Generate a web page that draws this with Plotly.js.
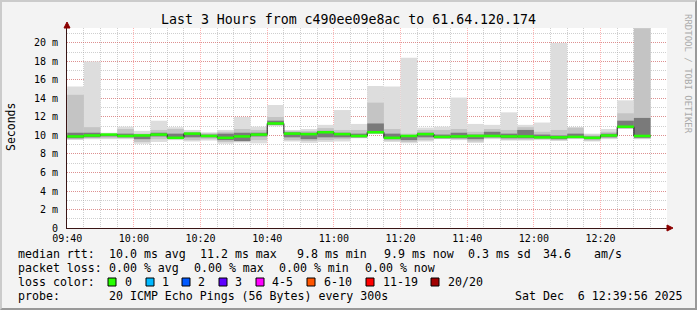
<!DOCTYPE html>
<html><head><meta charset="utf-8">
<script src="https://cdn.plot.ly/plotly-3.0.1.min.js"></script>
<style>
html,body{margin:0;padding:0;background:#f3f3f3;}
#wrap{position:relative;width:697px;height:310px;overflow:hidden;}
#chart{width:697px;height:310px;}
#frame{position:absolute;left:0;top:0;width:697px;height:310px;box-sizing:border-box;border-top:2px solid #cbcbcb;border-left:2px solid #cbcbcb;border-right:2px solid #999;border-bottom:2px solid #999;pointer-events:none;}
</style></head>
<body><div id="wrap"><div id="chart"></div><div id="frame"></div></div>
<script>
// ---- data (5-minute periods, milliseconds shown as "m") ----
const day = "2025-12-06";
const times = ["09:40","09:45","09:50","09:55","10:00","10:05","10:10","10:15","10:20","10:25","10:30","10:35","10:40","10:45","10:50","10:55","11:00","11:05","11:10","11:15","11:20","11:25","11:30","11:35","11:40","11:45","11:50","11:55","12:00","12:05","12:10","12:15","12:20","12:25","12:30"];
const maxs = [15.3,18.0,10.3,10.95,10.5,11.6,10.9,10.6,10.35,10.6,12.0,10.95,13.3,10.6,10.7,11.15,12.75,11.25,15.35,15.3,18.4,10.85,10.95,14.1,11.25,11.15,12.5,11.15,11.4,20.0,10.9,10.2,10.7,13.8,21.8];
const hi1  = [14.4,10.9,10.2,10.7,10.2,10.6,10.7,10.4,10.25,10.4,10.7,10.6,12.0,10.5,10.5,10.8,10.6,10.6,13.55,10.7,10.2,10.6,10.6,10.7,10.4,10.7,10.6,10.9,10.4,10.6,10.85,10.1,10.4,12.4,21.6];
const hi2  = [10.3,10.3,10.15,10.2,10.1,10.3,10.2,10.3,10.1,10.2,10.3,10.3,11.6,10.35,10.3,10.5,10.3,10.2,11.3,10.2,10.05,10.3,10.1,10.3,10.1,10.4,10.2,10.6,10.1,10.0,10.2,9.9,10.2,11.6,11.9];
const meds = [9.9,10.0,10.1,9.95,10.0,10.1,9.75,10.2,9.95,9.75,9.9,10.1,11.3,10.2,10.15,10.35,10.15,9.95,10.35,9.75,9.95,10.15,9.85,9.9,9.95,9.95,9.9,9.9,9.8,9.8,9.85,9.75,10.0,10.95,9.95];
const lo2  = [9.7,9.8,9.9,9.8,9.6,9.9,9.65,9.8,9.8,9.5,9.4,9.9,11.15,9.8,9.6,9.8,9.8,9.8,10.25,9.6,9.5,9.8,9.7,9.7,9.6,9.8,9.7,9.7,9.7,9.6,9.75,9.6,9.8,10.8,9.75];
const lo1  = [9.6,9.7,9.7,9.7,9.3,9.6,9.6,9.5,9.6,9.3,9.35,9.5,11.1,9.5,9.4,9.5,9.6,9.75,10.2,9.45,9.3,9.5,9.65,9.6,9.35,9.7,9.55,9.55,9.6,9.5,9.65,9.45,9.7,10.75,9.65];
const mins = [9.5,9.6,9.6,9.6,9.1,9.3,9.5,9.35,9.45,9.1,9.25,9.15,11.0,9.35,9.2,9.3,9.35,9.7,10.15,9.3,9.15,9.35,9.6,9.5,9.2,9.6,9.45,9.45,9.5,9.4,9.6,9.35,9.6,10.7,9.6];
const yTickVals = [0,2,4,6,8,10,12,14,16,18,20];
const yTickText = ["0","2 m","4 m","6 m","8 m","10 m","12 m","14 m","16 m","18 m","20 m"];
const lossLabels = ["0","1","2","3","4-5","6-10","11-19","20/20"];
const lossColors = ["#26ff00","#00b8ff","#0059ff","#5e00ff","#ff00fe","#ff5500","#ff0000","#a00000"];
const titleText = "Last 3 Hours from c490ee09e8ac to 61.64.120.174";
const statsRtt = ["median rtt:","10.0 ms avg","11.2 ms max","9.8 ms min","9.9 ms now","0.3 ms sd","34.6","am/s"];
const statsLoss = ["packet loss:","0.00 % avg","0.00 % max","0.00 % min","0.00 % now"];
const probeText = ["probe:","20 ICMP Echo Pings (56 Bytes) every 300s","Sat Dec  6 12:39:56 2025"];

// ---- helpers ----
const STEP = 300000;
function toMs(t){const [h,m]=t.split(":").map(Number);return Date.UTC(2025,11,6,h,m);}
const xs = times.map(toMs);
const MONO = "DejaVu Sans Mono, monospace";
// pixel -> paper (plot area x 67..667, y 28..228)
const PX = p => (p-67)/600, PY = p => (228-p)/200;

function band(lo, hi, color){
  return {type:"bar", x:xs, base:lo, y:hi.map((v,i)=>v-lo[i]), offset:0, width:STEP,
          marker:{color:color, line:{width:0}}, hoverinfo:"skip"};
}
const traces = [
  band(mins, maxs, "#dddddd"),
  band(lo1, hi1, "#c4c4c4"),
  band(lo2, hi2, "#7a7a7a"),
  {type:"scatter", mode:"lines", x:xs.concat([xs[xs.length-1]+STEP]), y:meds.concat([meds[meds.length-1]]),
   line:{shape:"hv", color:"#1a1a1a", width:1}, hoverinfo:"skip"},
  (function(){const gx=[],gy=[];xs.forEach((x,i)=>{gx.push(x,x+STEP,null);gy.push(meds[i],meds[i],null);});
    return {type:"scatter", mode:"lines", x:gx, y:gy, line:{color:lossColors[0], width:2.5}, hoverinfo:"skip", connectgaps:false};})()
];

const nb = s => s.replace(/ /g,"\u00a0");
const ann = [];
function txt(px, py, s, extra){ann.push(Object.assign({xref:"paper",yref:"paper",x:PX(px),y:PY(py),text:nb(s),showarrow:false,xanchor:"left",yanchor:"middle",font:{family:MONO,size:11.6,color:"#000"}},extra||{}));}
const rttX = [16,107,198,295,382,466,541,592];
statsRtt.forEach((s,i)=>txt(rttX[i],254,s));
const lossX = [16,107,192,277,363];
statsLoss.forEach((s,i)=>txt(lossX[i],268,s));
txt(16,282,"loss color:");
const sqX = [108,146,182,219,256,307,366,431];
const lbX = [123,160,196,233,270,322,381,446];
const shapes = [];
lossLabels.forEach((l,i)=>{
  txt(lbX[i],282,l);
  shapes.push({type:"rect",xref:"paper",yref:"paper",x0:PX(sqX[i]),x1:PX(sqX[i]+8),y0:PY(286),y1:PY(278),fillcolor:lossColors[i],line:{color:"#000",width:1}});
});
const probeX = [16,107,513];
probeText.forEach((s,i)=>txt(probeX[i],296,s));
ann.push({xref:"paper",yref:"paper",x:PX(11),y:PY(127),text:"Seconds",textangle:-90,showarrow:false,xanchor:"center",yanchor:"middle",font:{family:MONO,size:11.5,color:"#000"}});
ann.push({xref:"paper",yref:"paper",x:PX(688),y:PY(74),text:nb("RRDTOOL / TOBI OETIKER"),textangle:90,showarrow:false,xanchor:"center",yanchor:"middle",font:{family:MONO,size:9,color:"#aaaaaa"}});
// axis arrows
shapes.push({type:"path",xref:"paper",yref:"paper",path:`M ${PX(667)} ${PY(225)} L ${PX(673)} ${PY(228)} L ${PX(667)} ${PY(231)} Z`,fillcolor:"#8b0000",line:{color:"#8b0000",width:1}});
shapes.push({type:"path",xref:"paper",yref:"paper",path:`M ${PX(64)} ${PY(28)} L ${PX(67)} ${PY(22)} L ${PX(70)} ${PY(28)} Z`,fillcolor:"#8b0000",line:{color:"#8b0000",width:1}});

const layout = {
  width:697, height:310,
  margin:{l:67,r:30,t:28,b:82,pad:0},
  paper_bgcolor:"#f3f3f3", plot_bgcolor:"#ffffff",
  showlegend:false, barmode:"overlay",
  font:{family:MONO,size:10,color:"#000"},
  title:{text:titleText, x:0.5, xref:"container", xanchor:"center", y:1-19/310, yref:"container", yanchor:"middle", font:{family:MONO,size:13.25,color:"#000"}},
  xaxis:{type:"date", range:[toMs("09:40")-4000, toMs("09:40")-4000+180*60000], tickformat:"%H:%M",
    tick0:day+" 09:40", dtick:1200000, showgrid:true, gridcolor:"rgba(255,0,0,0.3)", griddash:"1px,1px", gridwidth:1,
    minor:{tick0:day+" 09:40", dtick:STEP, showgrid:true, gridcolor:"rgba(160,160,160,0.5)", griddash:"1px,1px", gridwidth:1},
    showline:true, linecolor:"#3a1515", linewidth:1, zeroline:false, ticks:"", ticklabelstandoff:1,
    tickfont:{family:MONO,size:10,color:"#000"}, fixedrange:true},
  yaxis:{range:[0,21.62], tickvals:yTickVals, ticktext:yTickText, showgrid:true, gridcolor:"rgba(255,0,0,0.3)", griddash:"1px,1px", gridwidth:1,
    minor:{dtick:1, showgrid:true, gridcolor:"rgba(160,160,160,0.5)", griddash:"1px,1px", gridwidth:1},
    showline:true, linecolor:"#3a1515", linewidth:1, zeroline:false, ticks:"", ticklabelstandoff:6,
    tickfont:{family:MONO,size:10,color:"#000"}, fixedrange:true},
  annotations:ann, shapes:shapes
};
Plotly.newPlot("chart", traces, layout, {displayModeBar:false, staticPlot:true});
</script>
</body></html>
